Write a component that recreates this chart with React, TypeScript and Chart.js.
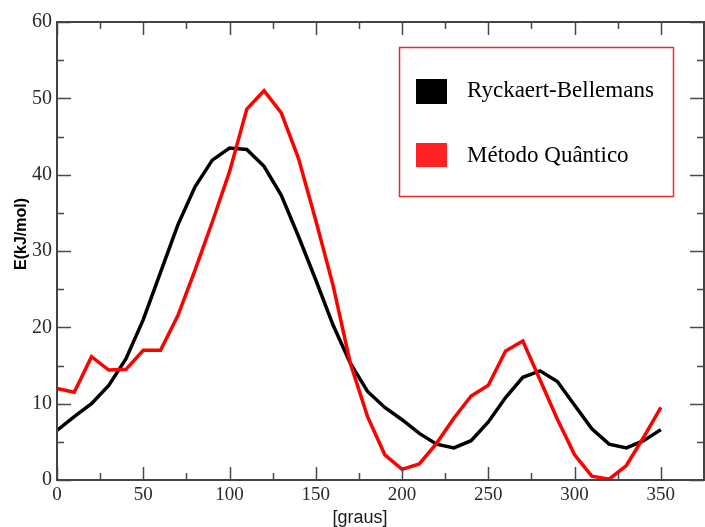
import React, { useEffect, useRef } from "react";
import { Chart, registerables } from "chart.js";

Chart.register(...registerables);

const angles = [0, 10, 20, 30, 40, 50, 60, 70, 80, 90, 100, 110, 120, 130, 140, 150, 160, 170, 180, 190, 200, 210, 220, 230, 240, 250, 260, 270, 280, 290, 300, 310, 320, 330, 340, 350];
const rbValues = [6.5, 8.3, 10.0, 12.4, 15.9, 21.0, 27.2, 33.4, 38.4, 41.9, 43.5, 43.3, 41.1, 37.3, 31.9, 26.2, 20.3, 15.3, 11.6, 9.5, 7.9, 6.1, 4.7, 4.2, 5.15, 7.6, 10.8, 13.45, 14.3, 12.9, 9.8, 6.7, 4.7, 4.2, 5.15, 6.6];
const qmValues = [12.0, 11.5, 16.15, 14.4, 14.5, 17.0, 17.0, 21.5, 27.5, 33.8, 40.4, 48.6, 51.0, 48.1, 42.1, 34.0, 25.5, 15.3, 8.3, 3.3, 1.4, 2.1, 4.8, 8.1, 11.0, 12.4, 16.9, 18.2, 13.1, 7.95, 3.3, 0.5, 0.1, 1.9, 5.6, 9.5];
const seriesNames = ["Ryckaert-Bellemans", "Método Quântico"];
const xTitle = "[graus]";
const yTitle = "E(kJ/mol)";

const framePlugin = {
  id: "frameTicks",
  afterDatasetsDraw(chart: any) {
    const { ctx, chartArea, scales } = chart;
    const { left, right, top, bottom } = chartArea;
    const x = scales.x;
    const y = scales.y;
    ctx.save();
    ctx.strokeStyle = "#4a4a4a";
    ctx.lineWidth = 1.5;
    ctx.beginPath();
    for (let v = x.min; v <= x.max; v += 25) {
      const px = Math.round(x.getPixelForValue(v)) + 0.5;
      const len = v % 50 === 0 ? 13 : 7;
      ctx.moveTo(px, bottom);
      ctx.lineTo(px, bottom - len);
      ctx.moveTo(px, top);
      ctx.lineTo(px, top + len);
    }
    for (let v = y.min; v <= y.max; v += 5) {
      const py = Math.round(y.getPixelForValue(v)) + 0.5;
      const len = v % 10 === 0 ? 14 : 7;
      ctx.moveTo(left, py);
      ctx.lineTo(left + len, py);
      ctx.moveTo(right, py);
      ctx.lineTo(right - len, py);
    }
    ctx.stroke();
    ctx.lineWidth = 2;
    ctx.strokeStyle = "#444";
    ctx.strokeRect(left, top, right - left, bottom - top);
    ctx.restore();
  },
  afterDraw(chart: any) {
    const { ctx } = chart;
    ctx.save();
    // axis titles
    ctx.fillStyle = "#1a1a1a";
    ctx.font = '18px "Liberation Sans", Arial, sans-serif';
    ctx.textAlign = "center";
    ctx.textBaseline = "middle";
    ctx.fillText(xTitle, 360, 518);
    ctx.save();
    ctx.translate(22, 234);
    ctx.rotate(-Math.PI / 2);
    ctx.font = 'bold 16px "Liberation Sans", Arial, sans-serif';
    ctx.fillStyle = "#000";
    ctx.fillText(yTitle, 0, 0);
    ctx.restore();
    // legend
    ctx.fillStyle = "#fff";
    ctx.fillRect(399, 47, 274, 149);
    ctx.strokeStyle = "#ee2a2a";
    ctx.lineWidth = 1.5;
    ctx.strokeRect(399.5, 47.5, 274, 149);
    ctx.fillStyle = "#000";
    ctx.fillRect(416, 79, 31, 25);
    ctx.fillStyle = "#ff2222";
    ctx.fillRect(416, 143, 31, 24);
    ctx.font = '23px "Liberation Serif", "Times New Roman", serif';
    ctx.textAlign = "left";
    ctx.textBaseline = "alphabetic";
    ctx.fillStyle = "#000";
    ctx.fillText(seriesNames[0], 467, 97);
    ctx.fillText(seriesNames[1], 467, 162);
    ctx.restore();
  },
};

export default function App() {
  const ref = useRef<HTMLCanvasElement | null>(null);
  useEffect(() => {
    if (!ref.current) return;
    const chart = new Chart(ref.current, {
      type: "line",
      data: {
        datasets: [
          {
            label: seriesNames[0],
            data: angles.map((a, i) => ({ x: a, y: rbValues[i] })),
            borderColor: "#000000",
            backgroundColor: "#000000",
            borderWidth: 3.5,
            pointRadius: 0,
            tension: 0,
            order: 2,
          },
          {
            label: seriesNames[1],
            data: angles.map((a, i) => ({ x: a, y: qmValues[i] })),
            borderColor: "#ff0000",
            backgroundColor: "#ff0000",
            borderWidth: 3.5,
            pointRadius: 0,
            tension: 0,
            order: 1,
          },
        ],
      },
      options: {
        animation: false,
        responsive: false,
        layout: { padding: { left: 0, top: 22, right: 1, bottom: 0 } },
        plugins: { legend: { display: false }, tooltip: { enabled: false } },
        scales: {
          x: {
            type: "linear",
            min: 0,
            max: 375,
            grid: { display: false, drawTicks: false },
            border: { display: false },
            ticks: {
              stepSize: 50,
              includeBounds: false,
              padding: 4,
              color: "#2a2a2a",
              font: { family: '"Liberation Serif", "Times New Roman", serif', size: 19 },
              maxRotation: 0,
            },
            afterFit: (s: any) => {
              s.height = 47;
            },
          },
          y: {
            type: "linear",
            min: 0,
            max: 60,
            grid: { display: false, drawTicks: false },
            border: { display: false },
            ticks: {
              stepSize: 10,
              padding: 5,
              color: "#2a2a2a",
              font: { family: '"Liberation Serif", "Times New Roman", serif', size: 20 },
            },
            afterFit: (s: any) => {
              s.width = 57;
            },
          },
        },
      },
      plugins: [framePlugin],
    });
    return () => chart.destroy();
  }, []);
  return (
    <div style={{ position: "absolute", left: 0, top: 0, width: 705, height: 527, background: "#fff" }}>
      <canvas ref={ref} width={705} height={527} />
    </div>
  );
}
